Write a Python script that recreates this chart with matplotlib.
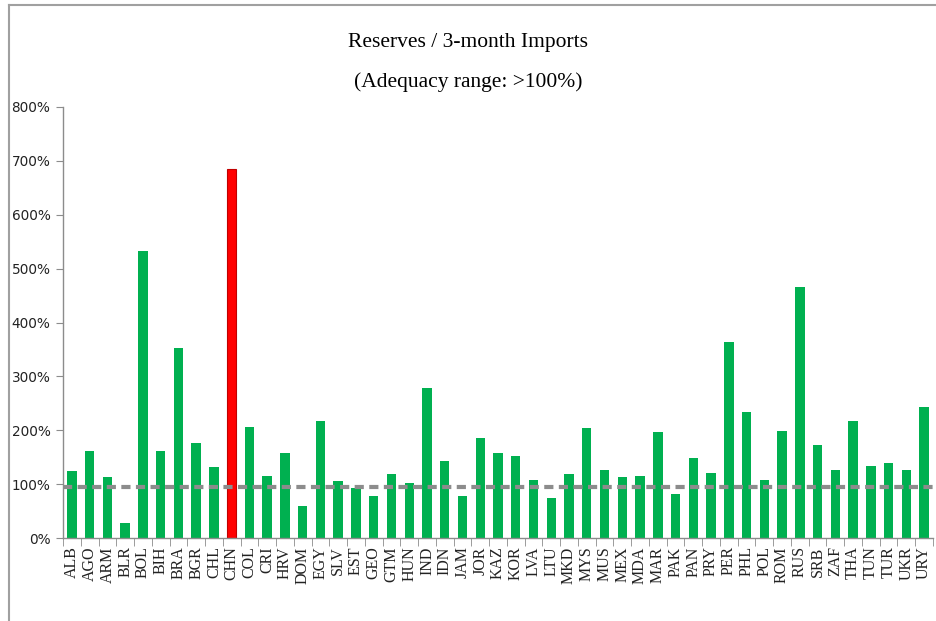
import numpy as np
import matplotlib
matplotlib.use("Agg")
from matplotlib import pyplot as plt
from matplotlib.lines import Line2D

# reserves as a share of three months of imports, in percent
countries = ["ALB", "AGO", "ARM", "BLR", "BOL", "BIH", "BRA", "BGR", "CHL", "CHN",
             "COL", "CRI", "HRV", "DOM", "EGY", "SLV", "EST", "GEO", "GTM", "HUN",
             "IND", "IDN", "JAM", "JOR", "KAZ", "KOR", "LVA", "LTU", "MKD", "MYS",
             "MUS", "MEX", "MDA", "MAR", "PAK", "PAN", "PRY", "PER", "PHL", "POL",
             "ROM", "RUS", "SRB", "ZAF", "THA", "TUN", "TUR", "UKR", "URY"]
reserves = [124, 161, 113, 28, 532, 161, 353, 177, 132, 684,
            206, 116, 158, 59, 217, 105, 92, 78, 118, 102,
            279, 143, 78, 186, 158, 153, 108, 75, 118, 204,
            127, 113, 116, 196, 81, 148, 121, 364, 233, 108,
            199, 466, 172, 127, 217, 134, 140, 127, 244]
highlight = "CHN"
threshold = 95
yticks = [0, 100, 200, 300, 400, 500, 600, 700, 800]

GREEN = "#00B050"
RED = "#FF0000"
GRAY = "#8C8C8C"

fig = plt.figure(figsize=(9.37, 6.21), dpi=100)
ax = fig.add_axes([63 / 937, 1 - 538 / 621, 870 / 937, 431 / 621])

x = np.arange(len(countries))
colors = [RED if c == highlight else GREEN for c in countries]
bars = ax.bar(x, reserves, width=0.53, color=colors, zorder=2)
for b, c in zip(bars, countries):
    if c == highlight:
        b.set_edgecolor("#C00000")
        b.set_linewidth(0.8)

# adequacy threshold
ax.axhline(threshold, color=GRAY, lw=3, ls=(0, (2.2, 1.3)), zorder=3)

ax.set_xlim(-0.5, len(countries) - 0.5)
ax.set_ylim(0, 800)
ax.set_yticks(yticks)
ax.set_yticklabels(["%d%%" % v for v in yticks], family="DejaVu Sans",
                   fontsize=9.8, color="#222222")
ax.set_xticks(x)
ax.set_xticklabels(countries, rotation=90, family="Liberation Serif",
                   fontsize=11.5, color="#222222")
ax.set_xticks(np.arange(len(countries) + 1) - 0.5, minor=True)
ax.tick_params(axis="x", which="major", length=0, pad=6)
ax.tick_params(axis="x", which="minor", length=6, color=GRAY, direction="out")
ax.tick_params(axis="y", length=5, color=GRAY, direction="out", pad=4)

for side in ["top", "right"]:
    ax.spines[side].set_visible(False)
for side in ["left", "bottom"]:
    ax.spines[side].set_color(GRAY)
    ax.spines[side].set_linewidth(1)

fig.text(0.5, 1 - 43 / 621, "Reserves / 3-month Imports", ha="center", va="center",
         family="Liberation Serif", fontsize=15.5)
fig.text(0.5, 1 - 82 / 621, "(Adequacy range: >100%)", ha="center", va="center",
         family="Liberation Serif", fontsize=15.5)

# frame lines along top and left edge
fig.add_artist(Line2D([9 / 937, 1], [1 - 5 / 621, 1 - 5 / 621], color="#A0A0A0", lw=1.5,
                      transform=fig.transFigure))
fig.add_artist(Line2D([9 / 937, 9 / 937], [0, 1 - 5 / 621], color="#A0A0A0", lw=1.5,
                      transform=fig.transFigure))

fig.savefig("out.png", dpi=100)
